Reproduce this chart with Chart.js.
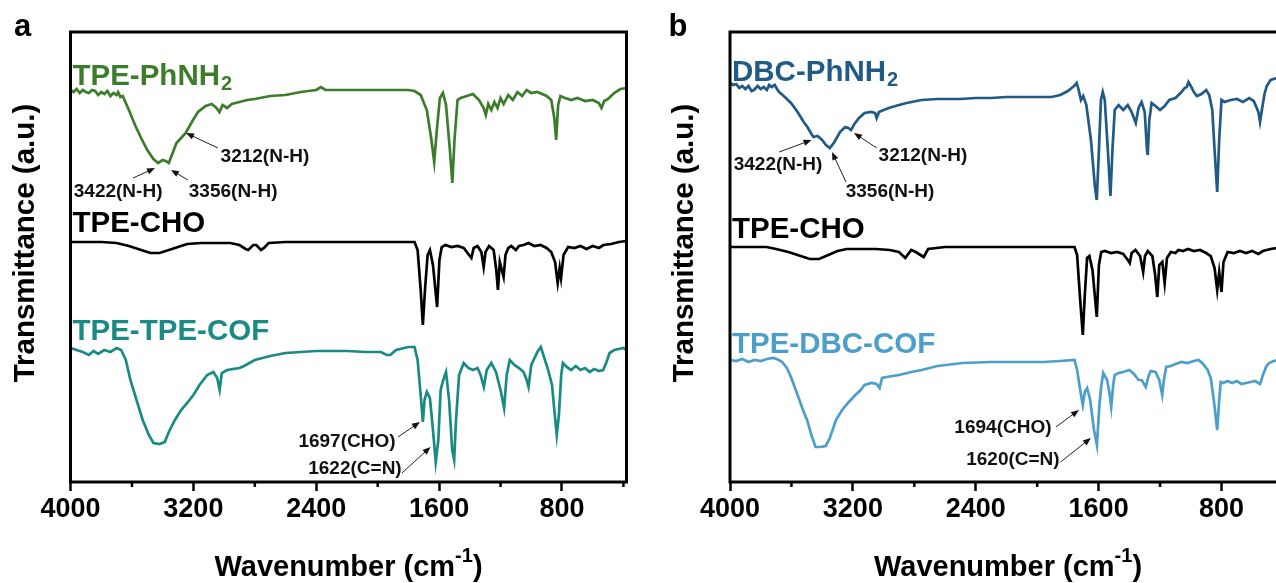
<!DOCTYPE html>
<html>
<head>
<meta charset="utf-8">
<script src="https://cdn.jsdelivr.net/npm/chart.js@4.4.1/dist/chart.umd.min.js"></script>
<style>
  html, body { margin: 0; padding: 0; background: #fff; }
  #wrap { position: relative; width: 1276px; height: 583px; overflow: hidden; background: #fff; }
  canvas { position: absolute; top: 0; }
  #panelA { left: 0; }
  #panelB { left: 636px; }
</style>
</head>
<body>
<div id="wrap">
  <canvas id="panelA" width="640" height="583"></canvas>
  <canvas id="panelB" width="700" height="583"></canvas>
</div>
<script>
// FTIR spectra, stacked with vertical offsets. Each point is [wavenumber (cm-1), transmittance (a.u.)].
const xTicks = [4000, 3200, 2400, 1600, 800];
const xMinorTicks = [3600, 2800, 2000, 1200, 400];

const tpePhNH2 = [
  [4000,392],[3980,390],[3960,393],[3940,389],[3920,392],[3900,390],[3880,389],[3860,392],[3840,391],[3820,387],
  [3800,390],[3780,388],[3760,391],[3740,386],[3720,389],[3700,387],[3690,390],[3675,385],[3660,386],
  [3620,372],[3580,357],[3540,344],[3500,332],[3460,323],[3430,319],[3400,322],[3380,321],[3360,319],[3340,327],
  [3310,339],[3280,344],[3250,349],[3210,360],[3170,370],[3120,376],[3080,378],[3050,374],[3030,370],[3010,377],
  [2980,374],[2950,378],[2900,380],[2850,382],[2800,383],[2700,386],[2600,387],[2500,390],[2400,392],[2370,395],
  [2340,392],[2200,392],[2000,392],[1800,392],[1760,391],[1720,387],[1680,372],[1650,342],[1632,320],[1615,352],
  [1595,384],[1575,389],[1555,377],[1530,332],[1514,299],[1500,342],[1480,382],[1460,384],[1420,386],[1380,388],
  [1340,382],[1310,374],[1296,367],[1280,378],[1260,372],[1240,380],[1220,374],[1200,384],[1180,378],[1150,387],
  [1120,382],[1090,390],[1060,386],[1030,392],[1000,389],[960,390],[900,386],[870,382],[850,364],[838,342],
  [825,377],[810,386],[780,384],[740,382],[700,384],[650,381],[600,382],[560,379],[543,374],[525,381],
  [500,383],[460,389],[420,393],[380,394]
];

const tpeCHOa = [
  [4000,240],[3900,240],[3800,240],[3700,239],[3620,236],[3540,232],[3480,229],[3420,229],[3360,232],[3300,235],
  [3240,238],[3150,239],[3050,239],[2960,239],[2900,237],[2860,233],[2843,232],[2810,237],[2790,237],[2760,232],
  [2740,234],[2710,239],[2600,240],[2400,240],[2200,240],[2000,240],[1800,240],[1760,240],[1740,232],[1720,192],
  [1706,157],[1692,192],[1675,227],[1660,232],[1640,217],[1613,175],[1598,222],[1583,235],[1560,237],[1520,235],
  [1480,236],[1440,234],[1405,227],[1390,224],[1375,234],[1350,236],[1325,230],[1310,215],[1298,230],[1275,236],
  [1245,232],[1228,212],[1217,192],[1205,220],[1180,205],[1168,227],[1150,234],[1130,236],[1100,232],[1080,236],
  [1050,237],[1018,239],[980,236],[940,237],[900,234],[870,230],[845,220],[828,199],[815,214],[806,204],
  [790,227],[760,235],[720,234],[680,236],[640,233],[600,236],[560,234],[530,237],[480,238],[430,240],[380,241]
];

const tpeTpeCOF = [
  [4000,134],[3960,132],[3920,130],[3880,127],[3850,131],[3820,128],[3780,132],[3740,130],[3700,134],[3670,132],
  [3640,122],[3610,102],[3570,82],[3530,62],[3490,47],[3460,39],[3420,38],[3386,40],[3360,50],[3320,62],
  [3280,72],[3240,79],[3200,87],[3160,97],[3110,107],[3070,110],[3045,104],[3029,92],[3015,109],[2980,112],
  [2940,113],[2900,114],[2870,116],[2800,122],[2700,126],[2600,129],[2500,130],[2400,131],[2200,131],[2078,130],
  [1980,130],[1940,127],[1918,127],[1880,132],[1800,135],[1760,135],[1740,122],[1720,87],[1706,60],[1695,82],
  [1680,90],[1660,84],[1640,52],[1622,20],[1605,42],[1590,92],[1573,102],[1555,110],[1535,82],[1515,32],
  [1502,22],[1490,62],[1470,107],[1440,119],[1410,114],[1380,112],[1350,114],[1330,107],[1309,95],[1290,112],
  [1260,119],[1230,110],[1200,92],[1177,74],[1160,107],[1140,122],[1110,117],[1080,114],[1050,110],[1030,102],
  [1018,95],[1000,117],[960,130],[938,135],[915,124],[890,112],[865,97],[850,72],[834,47],[820,67],
  [805,107],[794,119],[770,115],[740,112],[710,116],[680,112],[650,114],[620,110],[590,113],[560,111],
  [532,112],[510,120],[490,129],[460,132],[430,133],[400,134],[380,132]
];

const dbcPhNH2 = [
  [4000,399],[3980,397],[3960,398],[3940,394],[3920,396],[3900,393],[3880,396],[3860,391],[3844,392],[3820,396],
  [3800,393],[3780,395],[3760,392],[3745,397],[3730,395],[3709,397],[3690,392],[3680,390],
  [3650,386],[3603,379],[3560,370],[3520,360],[3496,355],[3470,348],[3456,345],[3430,346],[3400,342],[3375,337],
  [3350,334],[3320,340],[3284,350],[3250,355],[3230,354],[3212,352],[3190,358],[3160,364],[3124,369],[3080,370],
  [3055,369],[3045,364],[3030,370],[3000,372],[2966,374],[2900,377],[2850,379],[2753,382],[2650,383],[2500,383],
  [2400,384],[2300,384],[2200,385],[2100,385],[2000,385],[1905,385],[1850,387],[1800,391],[1760,396],[1743,399],
  [1730,392],[1715,382],[1700,386],[1680,377],[1650,342],[1625,297],[1612,282],[1598,332],[1585,382],[1573,390],
  [1560,382],[1540,332],[1523,286],[1510,332],[1495,372],[1470,377],[1440,372],[1410,377],[1385,370],[1370,364],
  [1358,359],[1340,374],[1320,380],[1300,370],[1285,332],[1280,327],[1270,362],[1255,379],[1230,376],[1200,372],
  [1170,376],[1140,382],[1100,384],[1060,390],[1040,394],[1026,395],[1015,400],[1000,396],[980,390],[960,386],
  [930,388],[900,392],[880,387],[860,372],[845,332],[828,290],[815,342],[800,382],[780,380],[740,382],
  [700,383],[660,380],[620,384],[590,381],[560,370],[549,360],[535,374],[520,388],[505,396],[480,402],
  [440,404],[400,405],[380,406]
];

const tpeCHOb = [
  [4000,235],[3900,235],[3800,235],[3762,235],[3700,233],[3620,230],[3540,226],[3480,223],[3420,223],[3360,227],
  [3300,231],[3240,233],[3150,233],[3050,233],[2960,232],[2900,230],[2859,224],[2820,232],[2790,230],[2760,227],
  [2739,225],[2710,233],[2600,235],[2400,235],[2200,235],[2000,235],[1800,235],[1757,235],[1740,227],[1720,182],
  [1703,147],[1690,187],[1675,224],[1660,226],[1640,212],[1612,165],[1598,217],[1583,230],[1560,231],[1520,229],
  [1480,230],[1440,228],[1410,222],[1397,219],[1385,229],[1360,232],[1330,226],[1310,210],[1298,226],[1280,231],
  [1250,226],[1232,207],[1218,185],[1205,217],[1185,220],[1170,199],[1155,224],[1130,230],[1100,229],[1080,232],
  [1050,231],[1018,233],[980,231],[940,232],[900,229],[870,226],[845,214],[828,192],[815,210],[800,190],
  [787,220],[760,230],[720,229],[680,231],[640,229],[600,231],[560,228],[530,231],[480,233],[440,234],
  [400,235],[380,235]
];

const tpeDbcCOF = [
  [4000,122],[3960,121],[3920,123],[3880,120],[3840,122],[3800,121],[3760,123],[3720,124],[3695,123],[3660,120],
  [3630,114],[3603,105],[3560,87],[3520,70],[3498,62],[3470,47],[3443,35],[3410,35],[3377,36],[3350,44],
  [3310,62],[3270,72],[3232,79],[3190,86],[3150,92],[3124,97],[3080,99],[3045,98],[3026,94],[3010,104],
  [2980,105],[2900,107],[2820,110],[2753,112],[2650,116],[2487,119],[2300,120],[2100,120],[1957,120],[1850,121],
  [1757,122],[1740,112],[1720,92],[1703,77],[1690,90],[1675,94],[1655,82],[1630,52],[1611,37],[1595,77],
  [1582,97],[1570,109],[1545,102],[1530,90],[1518,75],[1505,97],[1495,107],[1470,109],[1440,110],[1400,112],
  [1370,108],[1340,102],[1320,102],[1293,95],[1275,106],[1260,111],[1230,110],[1205,102],[1186,87],[1175,102],
  [1160,115],[1130,116],[1100,118],[1060,120],[1020,119],[980,121],[948,122],[920,118],[890,112],[870,104],
  [850,82],[828,52],[815,82],[805,100],[790,99],[760,101],[730,99],[700,101],[670,98],[640,99],
  [610,100],[580,101],[560,99],[549,98],[530,107],[510,115],[490,119],[460,121],[430,122],[400,122],[380,122]
];

const FONT = "'Liberation Sans', Arial, Helvetica, sans-serif";

// Decorations: frame, minor ticks, axis titles, series names, peak annotations
const panelDecor = {
  id: 'panelDecor',
  afterDraw(chart) {
    const cfg = chart.options.plugins.panelDecor;
    const { ctx, chartArea: a, scales: { x, y } } = chart;
    ctx.save();

    // plot frame
    ctx.strokeStyle = '#000';
    ctx.lineWidth = 3;
    ctx.strokeRect(a.left, a.top, a.right - a.left, a.bottom - a.top);

    // minor ticks on the wavenumber axis
    ctx.lineWidth = 2.5;
    xMinorTicks.forEach(v => {
      const px = x.getPixelForValue(v);
      ctx.beginPath();
      ctx.moveTo(px, a.bottom);
      ctx.lineTo(px, a.bottom + 5);
      ctx.stroke();
    });

    ctx.fillStyle = '#000';
    // panel letter
    ctx.font = `bold 31px ${FONT}`;
    ctx.textAlign = 'center';
    ctx.textBaseline = 'middle';
    ctx.fillText(cfg.letter, a.left + cfg.letterDx, 27);

    // y-axis title
    ctx.save();
    ctx.translate(a.left - 45, 243);
    ctx.rotate(-Math.PI / 2);
    ctx.font = `bold 29.5px ${FONT}`;
    ctx.textAlign = 'center';
    ctx.textBaseline = 'middle';
    ctx.fillText('Transmittance (a.u.)', 0, 0);
    ctx.restore();

    // x-axis title with superscript
    ctx.textAlign = 'left';
    ctx.textBaseline = 'alphabetic';
    const mainF = `bold 29px ${FONT}`, supF = `bold 20px ${FONT}`;
    ctx.font = mainF; const w1 = ctx.measureText('Wavenumber (cm').width; const w3 = ctx.measureText(')').width;
    ctx.font = supF; const w2 = ctx.measureText('-1').width;
    const cx = (a.left + a.right) / 2;
    let tx = cx - (w1 + w2 + w3) / 2;
    ctx.font = mainF; ctx.fillText('Wavenumber (cm', tx, 576); tx += w1;
    ctx.font = supF; ctx.fillText('-1', tx, 562); tx += w2;
    ctx.font = mainF; ctx.fillText(')', tx, 576);

    // series names
    cfg.names.forEach(n => {
      const py = y.getPixelForValue(n.val);
      ctx.fillStyle = n.color;
      ctx.font = `bold 29.5px ${FONT}`;
      ctx.textAlign = 'left';
      ctx.textBaseline = 'alphabetic';
      ctx.fillText(n.text, a.left + 2, py);
      if (n.sub) {
        const w = ctx.measureText(n.text).width;
        ctx.font = `bold 20px ${FONT}`;
        ctx.fillText(n.sub, a.left + 2 + w + 1, py + 5);
      }
    });

    // peak annotations with arrows
    ctx.fillStyle = '#111';
    ctx.strokeStyle = '#222';
    ctx.lineWidth = 1;
    ctx.font = `bold 19px ${FONT}`;
    ctx.textAlign = 'center';
    ctx.textBaseline = 'middle';
    cfg.notes.forEach(n => {
      ctx.fillText(n.text, x.getPixelForValue(n.at[0]), y.getPixelForValue(n.at[1]));
      const x1 = x.getPixelForValue(n.from[0]), y1 = y.getPixelForValue(n.from[1]);
      const x2 = x.getPixelForValue(n.to[0]), y2 = y.getPixelForValue(n.to[1]);
      const ang = Math.atan2(y2 - y1, x2 - x1), L = 8, W = 3.2;
      const c = Math.cos(ang), s = Math.sin(ang);
      ctx.beginPath();
      ctx.moveTo(x1, y1);
      ctx.lineTo(x2 - L * 0.7 * c, y2 - L * 0.7 * s);
      ctx.stroke();
      ctx.beginPath();
      ctx.moveTo(x2, y2);
      ctx.lineTo(x2 - L * c + W * s, y2 - L * s - W * c);
      ctx.lineTo(x2 - L * c - W * s, y2 - L * s + W * c);
      ctx.closePath();
      ctx.fill();
    });
    ctx.restore();
  }
};

function makePanel(id, series, decor, plotLeft, rightPad) {
  return new Chart(document.getElementById(id), {
    type: 'line',
    data: {
      datasets: series.map(s => ({
        data: s.points.map(([wn, t]) => ({ x: wn, y: t })),
        borderColor: s.color,
        borderWidth: 2.7,
        pointRadius: 0,
        tension: 0,
        fill: false
      }))
    },
    options: {
      responsive: false,
      animation: false,
      layout: { padding: { top: 32, right: rightPad, left: 0, bottom: 0 } },
      plugins: { legend: { display: false }, tooltip: { enabled: false }, panelDecor: decor },
      scales: {
        x: {
          type: 'linear', reverse: true, min: 380, max: 4000,
          afterBuildTicks: s => { s.ticks = xTicks.map(v => ({ value: v })); },
          ticks: {
            color: '#000', font: { family: FONT, size: 27, weight: 'bold' }, padding: 2,
            maxRotation: 0, autoSkip: false, callback: v => String(v)
          },
          grid: { drawOnChartArea: false, drawTicks: true, tickLength: 9, tickWidth: 2.5, tickColor: '#000' },
          border: { display: false },
          afterFit: s => { s.height = 101; }
        },
        y: {
          min: 0, max: 450,
          ticks: { display: false },
          grid: { display: false },
          border: { display: false },
          afterFit: s => { s.width = plotLeft; }
        }
      }
    },
    plugins: [panelDecor]
  });
}

const GREEN = '#3b7d2b', TEAL = '#1a8a84', NAVY = '#1f5b86', SKY = '#4b9fca';

makePanel('panelA', [
  { points: tpePhNH2, color: GREEN },
  { points: tpeCHOa, color: '#000' },
  { points: tpeTpeCOF, color: TEAL }
], {
  letter: 'a', letterDx: -48,
  names: [
    { text: 'TPE-PhNH', sub: '2', val: 397, color: GREEN },
    { text: 'TPE-CHO', val: 250, color: '#000' },
    { text: 'TPE-TPE-COF', val: 142, color: TEAL }
  ],
  notes: [
    { text: '3212(N-H)', at: [2734, 325], from: [3040, 334], to: [3248, 349] },
    { text: '3422(N-H)', at: [3690, 290], from: [3593, 304], to: [3450, 314] },
    { text: '3356(N-H)', at: [2941, 290], from: [3235, 302], to: [3346, 312] },
    { text: '1697(CHO)', at: [2200, 40], from: [1868, 45], to: [1725, 60] },
    { text: '1622(C=N)', at: [2148, 13], from: [1842, 9], to: [1656, 35] }
  ]
}, 70.5, 13.5);

makePanel('panelB', [
  { points: dbcPhNH2, color: NAVY },
  { points: tpeCHOb, color: '#000' },
  { points: tpeDbcCOF, color: SKY }
], {
  letter: 'b', letterDx: -52,
  names: [
    { text: 'DBC-PhNH', sub: '2', val: 401, color: NAVY },
    { text: 'TPE-CHO', val: 244, color: '#000' },
    { text: 'TPE-DBC-COF', val: 129, color: SKY }
  ],
  notes: [
    { text: '3422(N-H)', at: [3687, 317], from: [3680, 330], to: [3469, 342] },
    { text: '3212(N-H)', at: [2744, 326], from: [3044, 334], to: [3193, 349] },
    { text: '3356(N-H)', at: [2958, 290], from: [3245, 300], to: [3336, 330] },
    { text: '1694(CHO)', at: [2223, 54], from: [1878, 55], to: [1728, 72] },
    { text: '1620(C=N)', at: [2158, 22], from: [1848, 20], to: [1650, 44] }
  ]
}, 94, 50);
</script>
</body>
</html>
